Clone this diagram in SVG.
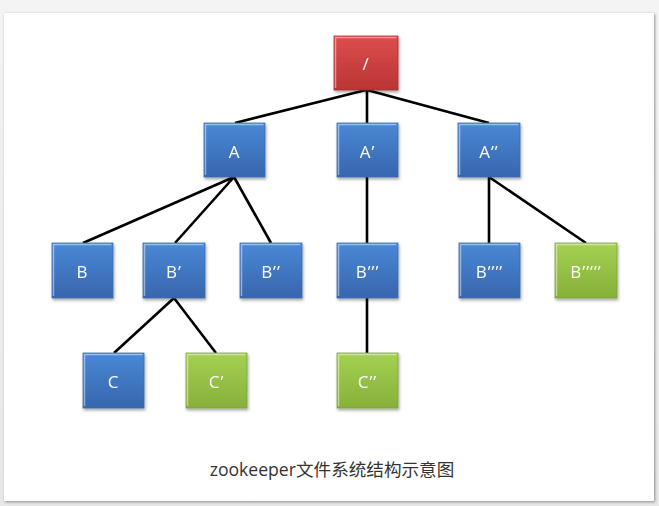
<svg xmlns="http://www.w3.org/2000/svg" width="659" height="506" viewBox="0 0 659 506">
<defs>
<linearGradient id="bg" x1="0" y1="0" x2="0" y2="1"><stop offset="0" stop-color="#f4f4f4"/><stop offset="1" stop-color="#e8e8e8"/></linearGradient>
<linearGradient id="gb" x1="0" y1="0" x2="0" y2="1"><stop offset="0" stop-color="#4a88d6"/><stop offset="1" stop-color="#3766ad"/></linearGradient>
<linearGradient id="gr" x1="0" y1="0" x2="0" y2="1"><stop offset="0" stop-color="#dc4d4d"/><stop offset="1" stop-color="#bb3535"/></linearGradient>
<linearGradient id="gg" x1="0" y1="0" x2="0" y2="1"><stop offset="0" stop-color="#a5d152"/><stop offset="1" stop-color="#86b03a"/></linearGradient>
<filter id="sh" x="-20%" y="-20%" width="150%" height="150%"><feDropShadow dx="1" dy="2" stdDeviation="1.5" flood-color="#000" flood-opacity="0.35"/></filter>
<filter id="psh" x="-5%" y="-5%" width="110%" height="110%"><feDropShadow dx="1" dy="1" stdDeviation="1.5" flood-color="#000" flood-opacity="0.4"/></filter>
</defs>
<style>
.b{fill:url(#gb);stroke:#3a6cb0;stroke-width:0.8}
.r{fill:url(#gr);stroke:#a83030;stroke-width:0.8}
.g{fill:url(#gg);stroke:#7ea33a;stroke-width:0.8}
.hl{fill:none;stroke:#ffffff;stroke-opacity:0.45;stroke-width:1.5}
.t{font-family:"Open Sans","Liberation Sans",sans-serif;font-size:17px;fill:#ffffff;text-anchor:middle;dominant-baseline:central;letter-spacing:1px}
.c path, .c line{stroke:#000;stroke-width:2.6;fill:none}
.cap{font-family:"Open Sans","Noto Sans CJK SC",sans-serif;font-size:17.6px;fill:#333;text-anchor:middle}
</style>
<rect x="0" y="0" width="659" height="506" fill="url(#bg)"/>
<rect x="4" y="13" width="650" height="488" fill="#fff" filter="url(#psh)"/>
<g class="c" id="connectors">
<line x1="366" y1="90" x2="235" y2="123"/>
<line x1="367" y1="90" x2="367" y2="123"/>
<line x1="367" y1="90" x2="489" y2="123"/>
<line x1="234" y1="177" x2="83" y2="243"/>
<line x1="234" y1="177" x2="175" y2="243"/>
<line x1="234" y1="177" x2="271" y2="243"/>
<line x1="367" y1="177" x2="367" y2="243"/>
<line x1="489" y1="177" x2="489" y2="243"/>
<line x1="489" y1="177" x2="586" y2="243"/>
<line x1="174" y1="298" x2="114" y2="353"/>
<line x1="174" y1="298" x2="216" y2="353"/>
<line x1="367" y1="298" x2="367" y2="353"/>
</g>
<g id="root" filter="url(#sh)"><rect class="r" x="334" y="36" width="64" height="54"/><path class="hl" d="M335.5 88 V37.5 H396.5"/><text class="t" x="366" y="63">/</text></g>
<g id="A" filter="url(#sh)"><rect class="b" x="204" y="123" width="61" height="54"/><path class="hl" d="M205.5 175 V124.5 H263.5"/><text class="t" x="234.5" y="151">A</text></g>
<g id="A1" filter="url(#sh)"><rect class="b" x="337" y="123" width="61" height="54"/><path class="hl" d="M338.5 175 V124.5 H396.5"/><text class="t" x="367.5" y="151">A’</text></g>
<g id="A2" filter="url(#sh)"><rect class="b" x="458" y="123" width="62" height="54"/><path class="hl" d="M459.5 175 V124.5 H518.5"/><text class="t" x="489" y="151">A’’</text></g>
<g id="B" filter="url(#sh)"><rect class="b" x="52" y="243" width="61" height="55"/><path class="hl" d="M53.5 296 V244.5 H111.5"/><text class="t" x="82.5" y="271">B</text></g>
<g id="B1" filter="url(#sh)"><rect class="b" x="143" y="243" width="62" height="55"/><path class="hl" d="M144.5 296 V244.5 H203.5"/><text class="t" x="174" y="271">B’</text></g>
<g id="B2" filter="url(#sh)"><rect class="b" x="240" y="243" width="62" height="55"/><path class="hl" d="M241.5 296 V244.5 H300.5"/><text class="t" x="271" y="271">B’’</text></g>
<g id="B3" filter="url(#sh)"><rect class="b" x="337" y="243" width="61" height="55"/><path class="hl" d="M338.5 296 V244.5 H396.5"/><text class="t" x="367.5" y="271">B’’’</text></g>
<g id="B4" filter="url(#sh)"><rect class="b" x="459" y="243" width="61" height="55"/><path class="hl" d="M460.5 296 V244.5 H518.5"/><text class="t" x="489.5" y="271">B’’’’</text></g>
<g id="B5" filter="url(#sh)"><rect class="g" x="555" y="243" width="62" height="55"/><path class="hl" d="M556.5 296 V244.5 H615.5"/><text class="t" x="586" y="271">B’’’’’</text></g>
<g id="C" filter="url(#sh)"><rect class="b" x="83" y="353" width="61" height="55"/><path class="hl" d="M84.5 406 V354.5 H142.5"/><text class="t" x="113.5" y="381">C</text></g>
<g id="C1" filter="url(#sh)"><rect class="g" x="186" y="353" width="61" height="55"/><path class="hl" d="M187.5 406 V354.5 H245.5"/><text class="t" x="216.5" y="381">C’</text></g>
<g id="C2" filter="url(#sh)"><rect class="g" x="337" y="353" width="61" height="55"/><path class="hl" d="M338.5 406 V354.5 H396.5"/><text class="t" x="367.5" y="381">C’’</text></g>
<text class="cap" x="332" y="476">zookeeper文件系统结构示意图</text>
</svg>
